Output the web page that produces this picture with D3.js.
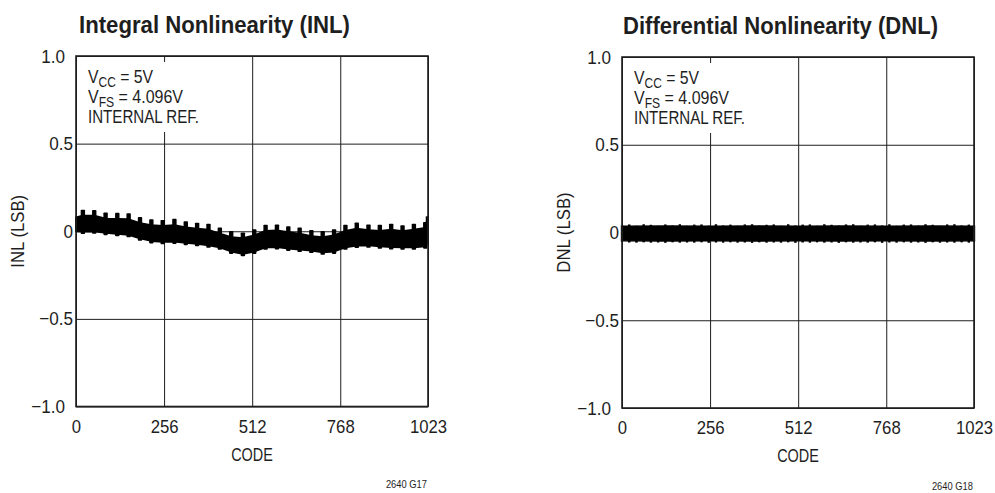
<!DOCTYPE html>
<html>
<head>
<meta charset="utf-8">
<script src="https://cdn.jsdelivr.net/npm/d3@7"></script>
<style>
  html, body { margin: 0; padding: 0; background: #fff; }
  svg { display: block; }
  text { font-family: "Liberation Sans Narrow", "Arial Narrow", "Liberation Sans", Arial, sans-serif; fill: #1e1e1e; }
</style>
</head>
<body>
<svg id="chart" width="995" height="493"></svg>
<script>
// ---------------- data ----------------
const codeTicks = [0, 256, 512, 768, 1023];
const lsbTicks = [-1, -0.5, 0, 0.5, 1];
const lsbTickLabels = ["\u22121.0", "\u22120.5", "0", "0.5", "1.0"];

const titles = ["Integral Nonlinearity (INL)", "Differential Nonlinearity (DNL)"];
const yLabels = ["INL (LSB)", "DNL (LSB)"];
const xLabel = "CODE";
const figureIds = ["2640 G17", "2640 G18"];

// INL band: codes of the periodic bumps, bump peak, band top (between bumps), band bottom
const inlCodes = [0, 20, 53, 86, 120, 153, 186, 219, 252, 286, 319, 352, 385, 418, 451, 485, 518,
                  551, 584, 617, 650, 684, 717, 750, 783, 816, 850, 883, 916, 949, 982, 1015, 1023];
const inlPeak = [0.080, 0.120, 0.118, 0.104, 0.102, 0.100, 0.078, 0.066, 0.062, 0.068, 0.054, 0.046, 0.040,
                 0.018, -0.002, -0.010, 0.008, 0.034, 0.036, 0.026, 0.018, 0.004, -0.002, 0.008, 0.034,
                 0.047, 0.036, 0.034, 0.040, 0.032, 0.040, 0.050, 0.085];
const inlTop = [0.078, 0.088, 0.088, 0.072, 0.070, 0.068, 0.046, 0.034, 0.030, 0.034, 0.022, 0.014, 0.008,
                -0.014, -0.034, -0.040, -0.024, 0.002, 0.004, -0.006, -0.014, -0.028, -0.034, -0.024, 0.002,
                0.014, 0.006, 0.002, 0.008, 0.000, 0.008, 0.018, 0.082];
const inlLow = [0.000, -0.002, 0.000, -0.008, -0.014, -0.020, -0.040, -0.055, -0.060, -0.058, -0.065, -0.072,
                -0.080, -0.092, -0.115, -0.128, -0.115, -0.092, -0.090, -0.098, -0.104, -0.110, -0.120, -0.115,
                -0.092, -0.082, -0.080, -0.086, -0.090, -0.092, -0.092, -0.085, -0.070];

// DNL band core and per-code excursions
const dnlBandCodes = [0, 128, 256, 384, 512, 640, 768, 896, 1023];
const dnlBandHigh = [0.036, 0.037, 0.036, 0.037, 0.036, 0.037, 0.036, 0.037, 0.036];
const dnlBandLow = [-0.047, -0.048, -0.047, -0.048, -0.047, -0.048, -0.047, -0.048, -0.047];
const dnlCodes = [0, 21, 42, 63, 84, 105, 126, 147, 168, 189, 210, 231, 252, 273, 294, 315, 336, 357, 378,
                  399, 420, 441, 462, 483, 504, 525, 546, 567, 588, 609, 630, 651, 672, 693, 714, 735, 756,
                  777, 798, 819, 840, 861, 882, 903, 924, 945, 966, 987, 1008, 1023];
const dnlMax = [0.040, 0.046, 0.038, 0.047, 0.044, 0.038, 0.046, 0.040, 0.047, 0.038, 0.045, 0.046, 0.039,
                0.047, 0.040, 0.045, 0.038, 0.046, 0.047, 0.039, 0.044, 0.046, 0.038, 0.047, 0.040, 0.045,
                0.046, 0.038, 0.047, 0.044, 0.039, 0.046, 0.047, 0.038, 0.045, 0.046, 0.040, 0.047, 0.038,
                0.045, 0.046, 0.039, 0.047, 0.044, 0.038, 0.046, 0.047, 0.040, 0.045, 0.040];
const dnlMin = [-0.052, -0.057, -0.058, -0.056, -0.058, -0.057, -0.059, -0.056, -0.058, -0.057, -0.058,
                -0.056, -0.059, -0.057, -0.058, -0.056, -0.058, -0.057, -0.059, -0.056, -0.058, -0.057,
                -0.058, -0.056, -0.059, -0.057, -0.058, -0.056, -0.058, -0.057, -0.059, -0.056, -0.058,
                -0.057, -0.058, -0.056, -0.059, -0.057, -0.058, -0.056, -0.058, -0.057, -0.059, -0.056,
                -0.058, -0.057, -0.058, -0.056, -0.058, -0.052];

const annotation = [
  [{t: "V"}, {t: "CC", sub: true}, {t: " = 5V"}],
  [{t: "V"}, {t: "FS", sub: true}, {t: " = 4.096V"}],
  [{t: "INTERNAL REF."}]
];

// ---------------- layout ----------------
const panels = [
  {x0: 76, x1: 428, y0: 56, y1: 406.5, titleX: 79, titleY: 33, titleW: 271, yLabelX: 18, footX: 427, footY: 488},
  {x0: 622, x1: 974, y0: 57, y1: 408, titleX: 623, titleY: 34, titleW: 315, yLabelX: 564, footX: 973, footY: 490}
];

const FONT = "Liberation Sans Narrow, Arial Narrow, Liberation Sans, Arial, sans-serif";
const svg = d3.select("#chart");
svg.append("rect").attr("width", 995).attr("height", 493).attr("fill", "#fff");
const ink = "#1e1e1e";

// horizontally condense text (reference uses a condensed face)
function condense(sel, f) {
  sel.each(function () {
    const L = this.getComputedTextLength();
    d3.select(this).attr("textLength", L * f).attr("lengthAdjust", "spacingAndGlyphs");
  });
}
function fitWidth(sel, W) {
  sel.attr("textLength", W).attr("lengthAdjust", "spacingAndGlyphs");
}

panels.forEach((p, i) => {
  const x = d3.scaleLinear().domain([0, 1023]).range([p.x0, p.x1]);
  const y = d3.scaleLinear().domain([-1, 1]).range([p.y1, p.y0]);
  const g = svg.append("g");
  const w = p.x1 - p.x0, h = p.y1 - p.y0;

  // title
  const tt = g.append("text").attr("x", p.titleX).attr("y", p.titleY)
    .attr("font-size", 24).attr("font-weight", "bold").text(titles[i]);
  fitWidth(tt, p.titleW);

  // x grid + labels
  const xa = g.append("g").attr("transform", `translate(0,${p.y1})`)
    .call(d3.axisBottom(x).tickValues(codeTicks).tickSize(-h).tickPadding(13).tickFormat(d => String(d)));
  xa.select(".domain").remove();
  xa.selectAll("line").attr("stroke", ink).attr("stroke-width", 1);
  xa.selectAll("text").attr("font-size", 19).attr("fill", ink).attr("font-family", FONT);
  condense(xa.selectAll("text"), 0.88);

  // y grid + labels
  const ya = g.append("g").attr("transform", `translate(${p.x0},0)`)
    .call(d3.axisLeft(y).tickValues(lsbTicks).tickSize(-w).tickPadding(3)
      .tickFormat(d => lsbTickLabels[lsbTicks.indexOf(d)]));
  ya.select(".domain").remove();
  ya.selectAll("line").attr("stroke", ink).attr("stroke-width", 1);
  ya.selectAll("text").attr("font-size", 19).attr("fill", ink).attr("font-family", FONT)
    .attr("x", d => Math.abs(d) === 1 ? -11 : -3);
  condense(ya.selectAll("text"), 0.9);

  // axis titles
  const xl = g.append("text").attr("x", (p.x0 + p.x1) / 2).attr("y", p.y1 + 54)
    .attr("text-anchor", "middle").attr("font-size", 18.5).text(xLabel);
  condense(xl, 0.78);
  const yl = g.append("text").attr("transform", `translate(${p.yLabelX},${y(0)}) rotate(-90)`)
    .attr("text-anchor", "middle").attr("dy", "0.35em").attr("font-size", 18).text(yLabels[i]);
  condense(yl, 0.93);

  // figure id
  const ft = g.append("text").attr("x", p.footX).attr("y", p.footY).attr("text-anchor", "end")
    .attr("font-size", 11).text(figureIds[i]);
  condense(ft, 0.85);

  // annotation with white backing
  const ax = p.x0 + 12;
  g.append("rect").attr("x", p.x0 + 8).attr("y", p.y0 + 6).attr("width", 122).attr("height", 70).attr("fill", "#fff");
  const annW = [65, 95, 111];
  annotation.forEach((line, li) => {
    const t = g.append("text").attr("x", ax).attr("y", p.y0 + 27 + li * 20).attr("font-size", 18.5);
    let down = false;
    line.forEach(part => {
      const s = t.append("tspan").text(part.t);
      if (part.sub && !down) { s.attr("font-size", 14).attr("dy", 4); down = true; }
      else if (!part.sub && down) { s.attr("dy", -4); down = false; }
    });
    fitWidth(t, annW[li]);
  });

  // data
  const dg = g.append("g");
  if (i === 0) {
    const band = d3.area()
      .x((d, k) => x(inlCodes[k]))
      .y0((d, k) => y(inlLow[k]))
      .y1((d, k) => y(inlTop[k]));
    dg.append("path").datum(inlCodes).attr("d", band)
      .attr("fill", "#000").attr("stroke", "#000").attr("stroke-width", 2).attr("stroke-linejoin", "round");
    dg.selectAll("rect.bump").data(inlCodes.slice(1, -1)).join("rect").attr("class", "bump")
      .attr("x", d => x(d) - 2.2).attr("width", 4.4)
      .attr("y", (d, k) => y(inlPeak[k + 1]) - 0.5)
      .attr("height", (d, k) => y(inlLow[k + 1]) - y(inlPeak[k + 1]) + 3)
      .attr("fill", "#000").attr("rx", 0.8);
    // end spike
    dg.append("line")
      .attr("x1", x(inlCodes[inlCodes.length - 1]) - 1).attr("x2", x(inlCodes[inlCodes.length - 1]) - 1)
      .attr("y1", y(inlPeak[inlPeak.length - 1])).attr("y2", y(inlLow[inlLow.length - 1]))
      .attr("stroke", "#000").attr("stroke-width", 2.5);
  } else {
    const band = d3.area()
      .x((d, k) => x(dnlBandCodes[k]))
      .y0((d, k) => y(dnlBandLow[k]))
      .y1((d, k) => y(dnlBandHigh[k]));
    dg.append("path").datum(dnlBandCodes).attr("d", band)
      .attr("fill", "#000").attr("stroke", "#000").attr("stroke-width", 1.5);
    dg.selectAll("line.sp").data(dnlCodes).join("line").attr("class", "sp")
      .attr("x1", d => x(d)).attr("x2", d => x(d))
      .attr("y1", (d, k) => y(dnlMax[k])).attr("y2", (d, k) => y(dnlMin[k]))
      .attr("stroke", "#000").attr("stroke-width", 2.4);
  }

  // frame
  g.append("rect").attr("x", p.x0).attr("y", p.y0).attr("width", w).attr("height", h)
    .attr("fill", "none").attr("stroke", ink).attr("stroke-width", 1.6);
});
</script>
</body>
</html>
